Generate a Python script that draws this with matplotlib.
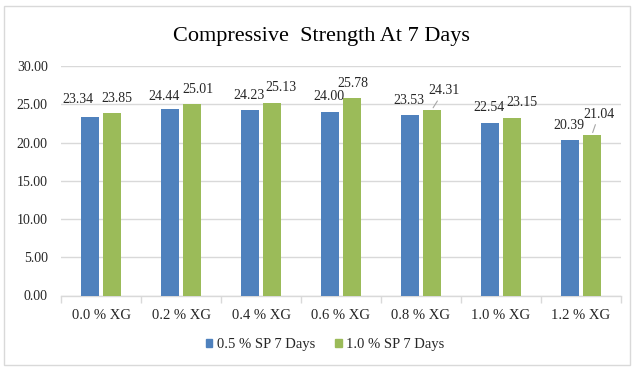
import matplotlib
matplotlib.use("Agg")
import matplotlib.pyplot as plt
import numpy as np
from matplotlib.patches import Rectangle, Patch

plt.rcParams['font.family'] = ['Liberation Serif', 'DejaVu Serif']

categories = ['0.0 % XG', '0.2 % XG', '0.4 % XG', '0.6 % XG',
              '0.8 % XG', '1.0 % XG', '1.2 % XG']
sp_05 = [23.34, 24.44, 24.23, 24.00, 23.53, 22.54, 20.39]
sp_10 = [23.85, 25.01, 25.13, 25.78, 24.31, 23.15, 21.04]
series_names = ['0.5 % SP 7 Days', '1.0 % SP 7 Days']
y_ticks = [0, 5, 10, 15, 20, 25, 30]

blue = '#4f81bd'
green = '#9bbb59'
grid_col = '#d9d9d9'

# label offsets in pixels (x shift, lift above bar top)
off_05 = [(-12.5, 17), (-5.5, 12), (-1, 15), (-1, 15), (-1, 14.5), (-1, 16), (-1, 14.5)]
off_10 = [(5, 15), (5.7, 15), (9.3, 16), (1, 14.5), (12, 19), (10, 16), (7, 20.5)]
leader_10 = [False, False, False, False, True, False, True]

W, H = 634, 367
fig = plt.figure(figsize=(W / 100, H / 100), dpi=100)
ax = fig.add_axes([61 / W, 1 - 295.5 / H, 560 / W, 229.5 / H])

x = np.arange(len(categories))
bw = 0.225
d = 0.1375
ax.bar(x - d, sp_05, bw, color=blue, zorder=3)
ax.bar(x + d, sp_10, bw, color=green, zorder=3)

def put_labels(xs, vals, offs, leaders=None):
    for i, (xi, v) in enumerate(zip(xs, vals)):
        dx, dy = offs[i]
        kw = {}
        if leaders is not None and leaders[i]:
            kw['arrowprops'] = dict(arrowstyle='-', color='#a6a6a6', lw=0.8,
                                    shrinkA=1, shrinkB=1.5)
        ax.annotate(f'{v:.2f}', xy=(xi, v), xytext=(dx, dy),
                    textcoords='offset pixels', ha='center', va='center',
                    fontsize=10, color='#262626', **kw)

put_labels(x - d, sp_05, off_05)
put_labels(x + d, sp_10, off_10, leader_10)

ax.set_xlim(-0.5, len(categories) - 0.5)
ax.set_ylim(0, 30)
ax.set_yticks(y_ticks)
ax.set_yticklabels([f'{t:.2f}' for t in y_ticks], fontsize=10, color='#262626')
ax.tick_params(axis='y', length=0, pad=9.5)
ax.yaxis.grid(True, color=grid_col, lw=1, zorder=0)
ax.set_axisbelow(True)

ax.set_xticks(x)
ax.set_xticklabels(categories, fontsize=10.5, color='#262626')
ax.set_xticks(np.arange(-0.5, len(categories)), minor=True)
ax.tick_params(axis='x', which='major', length=0, pad=10)
ax.tick_params(axis='x', which='minor', length=5, color=grid_col, width=1)

for s in ['top', 'right', 'left']:
    ax.spines[s].set_visible(False)
ax.spines['bottom'].set_color(grid_col)
ax.spines['bottom'].set_linewidth(1)

fig.text(321 / W, 1 - 37 / H, 'Compressive  Strength At 7 Days',
         ha='center', va='center', fontsize=16, color='#000000')

handles = [Patch(color=blue), Patch(color=green)]
fig.legend(handles, series_names, loc='center', ncol=2, frameon=False,
           bbox_to_anchor=(325 / W, 1 - 344.5 / H), fontsize=10.5,
           handlelength=0.45, handleheight=0.45, handletextpad=0.3,
           columnspacing=1.4, labelcolor='#262626')

fig.patches.append(Rectangle((4 / W, 1 - 365 / H), 626 / W, 359 / H,
                             transform=fig.transFigure, fill=False,
                             edgecolor=grid_col, lw=1))

fig.savefig('out.png', dpi=100)
